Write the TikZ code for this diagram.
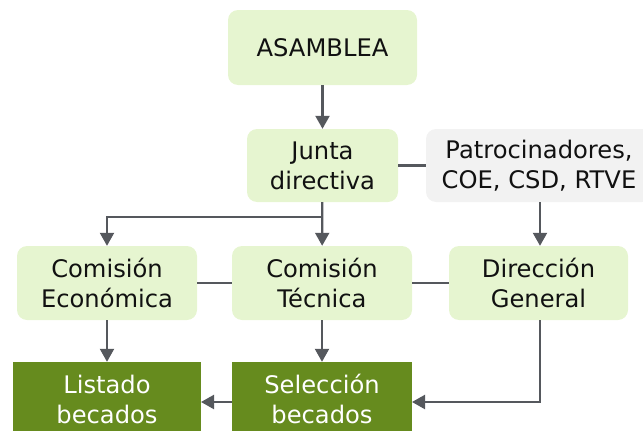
\documentclass[tikz,border=0pt]{standalone}
\usepackage{fontspec}
\setmainfont{DejaVu Sans}
\usetikzlibrary{arrows.meta,positioning}
\definecolor{lightg}{HTML}{E6F5D0}
\definecolor{darkg}{HTML}{668B1E}
\definecolor{greyb}{HTML}{F2F2F2}
\definecolor{linec}{HTML}{55585D}
\definecolor{txt}{HTML}{111111}
\tikzset{
  base/.style={align=center, inner sep=0pt, text=txt, font=\fontsize{24.2}{30}\selectfont},
  lightbox/.style={base, fill=lightg, rounded corners=10pt},
  greybox/.style={base, fill=greyb, rounded corners=10pt},
  darkbox/.style={base, fill=darkg, text=white},
  conn/.style={draw=linec, line width=2.2pt},
  arr/.style={conn, -{Triangle[length=13pt,width=14pt]}}
}
\begin{document}
\begin{tikzpicture}[x=1pt,y=-1pt]
\useasboundingbox (0,0) rectangle (643,431);
\node[lightbox, minimum width=189pt, minimum height=75pt] (asam) at (322.5,47.5) {ASAMBLEA};
\node[lightbox, minimum width=151pt, minimum height=73pt] (junta) at (322.5,165.5) {Junta\\directiva};
\node[greybox, minimum width=226pt, minimum height=73pt] (patro) at (539,165.5) {Patrocinadores,\\COE, CSD, RTVE};
\node[lightbox, minimum width=180pt, minimum height=74pt] (eco) at (107,283) {Comisión\\Económica};
\node[lightbox, minimum width=180pt, minimum height=74pt] (tec) at (322,283) {Comisión\\Técnica};
\node[lightbox, minimum width=179pt, minimum height=74pt] (dir) at (538.5,283) {Dirección\\General};
\node[darkbox, minimum width=188pt, minimum height=74pt] (list) at (107,399) {Listado\\becados};
\node[darkbox, minimum width=180pt, minimum height=74pt] (sel) at (322,399) {Selección\\becados};
\coordinate (br) at (322,217);
\coordinate (selin) at (412,402);
\coordinate (listin) at (201,402);
\coordinate (dirout) at (540,320);
\coordinate (patout) at (540,202);
\draw[arr] (asam) -- (junta);
\draw[arr] (junta) -- (tec);
\draw[arr] (br) -| (eco.north);
\draw[conn] (junta) -- (patro);
\draw[arr] (patout) -- (dirout |- dir.north);
\draw[conn] (eco) -- (tec);
\draw[conn] (tec) -- (dir);
\draw[arr] (eco) -- (list);
\draw[arr] (tec) -- (sel);
\draw[arr] (dirout) |- (selin);
\draw[arr] (sel.west |- selin) -- (listin);
\end{tikzpicture}
\end{document}
